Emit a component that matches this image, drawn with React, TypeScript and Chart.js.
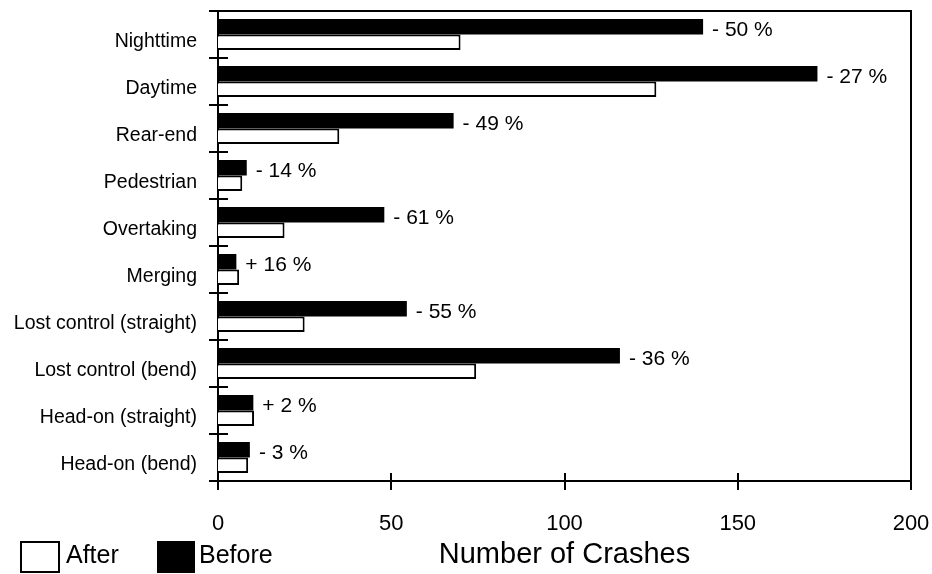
import React, { useEffect, useRef } from "react";
import { Chart, registerables } from "chart.js";

Chart.register(...registerables);

const categories = [
  "Nighttime",
  "Daytime",
  "Rear-end",
  "Pedestrian",
  "Overtaking",
  "Merging",
  "Lost control (straight)",
  "Lost control (bend)",
  "Head-on (straight)",
  "Head-on (bend)",
];
const beforeValues = [140, 173, 68, 8.3, 48, 5.3, 54.5, 116, 10.2, 9.2];
const afterValues = [70, 126.5, 35, 7, 19.2, 6.1, 25, 74.5, 10.4, 8.7];
const changeLabels = ["- 50 %", "- 27 %", "- 49 %", "- 14 %", "- 61 %", "+ 16 %", "- 55 %", "- 36 %", "+ 2 %", "- 3 %"];
const xTickStep = 50;
const xMax = 200;
const legendItems = ["After", "Before"];

const FONT = "'Liberation Sans', Arial, Helvetica, sans-serif";

const decorPlugin = {
  id: "decor",
  afterDraw(chart: any) {
    const ctx = chart.ctx as CanvasRenderingContext2D;
    const { left, right, top, bottom } = chart.chartArea;
    const xs = chart.scales.x;
    const ys = chart.scales.y;
    ctx.save();
    ctx.strokeStyle = "#000";
    ctx.lineWidth = 2;
    // top and right frame
    ctx.beginPath();
    ctx.moveTo(left, top);
    ctx.lineTo(right, top);
    ctx.lineTo(right, bottom);
    ctx.stroke();
    // y boundary ticks crossing the axis
    for (let i = 0; i <= categories.length; i++) {
      const py = Math.round(ys.getPixelForValue(i - 0.5));
      ctx.beginPath();
      ctx.moveTo(left - 9, py);
      ctx.lineTo(left + 10, py);
      ctx.stroke();
    }
    // x ticks crossing the axis
    xs.ticks.forEach((t: any) => {
      const px = Math.round(xs.getPixelForValue(t.value));
      ctx.beginPath();
      ctx.moveTo(px, bottom - 8);
      ctx.lineTo(px, bottom + 9);
      ctx.stroke();
    });
    // change labels next to the Before bars
    const meta = chart.getDatasetMeta(0);
    ctx.fillStyle = "#000";
    ctx.font = `21px ${FONT}`;
    ctx.textBaseline = "middle";
    ctx.textAlign = "left";
    meta.data.forEach((el: any, i: number) => {
      ctx.fillText(changeLabels[i], el.x + 9, el.y + 3);
    });
    // legend
    ctx.font = `25px ${FONT}`;
    ctx.lineWidth = 2;
    ctx.fillStyle = "#fff";
    ctx.fillRect(21, 542, 38, 30);
    ctx.strokeRect(21, 542, 38, 30);
    ctx.fillStyle = "#000";
    ctx.fillText(legendItems[0], 66, 556);
    ctx.fillRect(157, 541, 38, 32);
    ctx.fillText(legendItems[1], 199, 556);
    ctx.restore();
  },
};

export default function App() {
  const ref = useRef<HTMLCanvasElement | null>(null);
  useEffect(() => {
    if (!ref.current) return;
    Chart.defaults.font.family = FONT;
    const chart = new Chart(ref.current, {
      type: "bar",
      data: {
        labels: categories,
        datasets: [
          { label: "Before", data: beforeValues, backgroundColor: "#000", borderColor: "#000", borderWidth: 0 },
          { label: "After", data: afterValues, backgroundColor: "#fff", borderColor: "#000", borderWidth: 2 },
        ],
      },
      options: {
        indexAxis: "y",
        animation: false,
        responsive: false,
        maintainAspectRatio: false,
        layout: { padding: { left: 0, top: 11, right: 21, bottom: 0 } },
        datasets: { bar: { categoryPercentage: 0.66, barPercentage: 1 } },
        plugins: { legend: { display: false }, tooltip: { enabled: false } },
        scales: {
          x: {
            min: 0,
            max: xMax,
            ticks: { stepSize: xTickStep, color: "#000", font: { size: 22 }, padding: 30 },
            grid: { display: false, drawTicks: false },
            border: { display: true, color: "#000", width: 2 },
            title: {
              display: true,
              text: "Number of Crashes",
              color: "#000",
              font: { size: 29 },
              padding: { top: 0, bottom: 2 },
            },
            afterFit: (s: any) => {
              s.height = 93;
              s.paddingLeft = 0;
              s.paddingRight = 0;
            },
          },
          y: {
            ticks: { color: "#000", font: { size: 19.5 }, padding: 21, labelOffset: 7.5 },
            grid: { display: false, drawTicks: false },
            border: { display: true, color: "#000", width: 2 },
            afterFit: (s: any) => {
              s.width = 218;
              s.paddingTop = 0;
              s.paddingBottom = 0;
            },
          },
        },
      } as any,
      plugins: [decorPlugin],
    });
    return () => chart.destroy();
  }, []);
  return (
    <div style={{ position: "fixed", left: 0, top: 0, width: 932, height: 574, background: "#fff" }}>
      <canvas ref={ref} width={932} height={574} />
    </div>
  );
}
